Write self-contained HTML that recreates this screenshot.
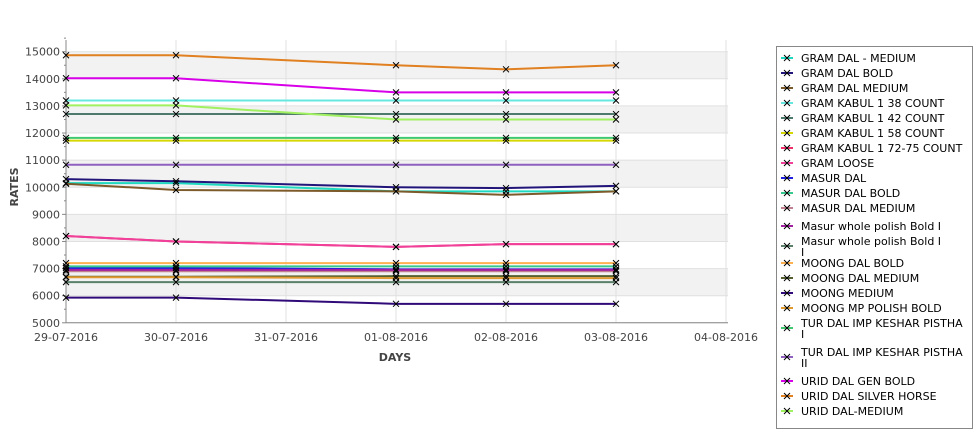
<!DOCTYPE html>
<html><head><meta charset="utf-8"><style>
body{margin:0;background:#fff;width:975px;height:429px;overflow:hidden}
svg{font-family:"DejaVu Sans","Liberation Sans",sans-serif}
</style></head><body>
<svg id="chart" width="975" height="429" xmlns="http://www.w3.org/2000/svg">
<g id="bands"></g><g id="grid"></g><g id="axes"></g><g id="series"></g><g id="legend"></g>
</svg>
<script>
const xLabels = ["29-07-2016","30-07-2016","31-07-2016","01-08-2016","02-08-2016","03-08-2016","04-08-2016"];
const yTicks = [5000,6000,7000,8000,9000,10000,11000,12000,13000,14000,15000];
const pointDays = [0,1,3,4,5];
const seriesNames = ["GRAM DAL - MEDIUM","GRAM DAL BOLD","GRAM DAL MEDIUM","GRAM KABUL 1 38 COUNT","GRAM KABUL 1 42 COUNT","GRAM KABUL 1 58 COUNT","GRAM KABUL 1 72-75 COUNT","GRAM LOOSE","MASUR DAL","MASUR DAL BOLD","MASUR DAL MEDIUM","Masur whole polish Bold I","Masur whole polish Bold I|I","MOONG DAL BOLD","MOONG DAL MEDIUM","MOONG MEDIUM","MOONG MP POLISH BOLD","TUR DAL IMP KESHAR PISTHA|I","TUR DAL IMP KESHAR PISTHA|II","URID DAL GEN BOLD","URID DAL SILVER HORSE","URID DAL-MEDIUM"];
const seriesColors = ["#1ed9c0","#22157a","#7d5a2a","#66e8e0","#4e7a6e","#d4d800","#f0306a","#f0409a","#2020e0","#36c88e","#c08090","#a020a0","#5a806a","#ffb050","#556030","#300a78","#e09a30","#40c870","#9060c0","#d800e8","#e08020","#a0f060"];
const s0=[10150,10150,9850,9850,9850], s1=[10300,10220,10000,9970,10050], s2=[10130,9900,9850,9720,9850];
const s3=[13200,13200,13200,13200,13200], s4=[12700,12700,12700,12700,12700], s5=[11720,11720,11720,11720,11720];
const s6=[8200,8000,7800,7900,7900], s7=[8200,8000,7800,7900,7900], s8=[7020,7020,6970,6970,6970];
const s9=[7080,7080,7080,7080,7080], s10=[6900,6900,6900,6900,6900], s11=[6950,6950,6950,6950,6950];
const s12=[6500,6500,6500,6500,6500], s13=[7200,7200,7200,7200,7200], s14=[6700,6700,6720,6720,6720];
const s15=[5930,5930,5700,5700,5700], s16=[6680,6680,6650,6650,6650], s17=[11820,11820,11820,11820,11820];
const s18=[10830,10830,10830,10830,10830], s19=[14020,14020,13500,13500,13500], s20=[14870,14870,14500,14350,14500];
const s21=[13020,13020,12500,12500,12500];
const seriesValues=[s0,s1,s2,s3,s4,s5,s6,s7,s8,s9,s10,s11,s12,s13,s14,s15,s16,s17,s18,s19,s20,s21];

const NS="http://www.w3.org/2000/svg";
const L=66,R=728,T=40;
const X=d=>L+d*110;
const Y=v=>51.7+(15000-v)*0.02711;
function mk(tag,parent,attrs){const e=document.createElementNS(NS,tag);for(const k in attrs)e.setAttribute(k,attrs[k]);document.getElementById(parent).appendChild(e);return e;}

for(let i=0;i<yTicks.length-1;i++){
  const b=mk('rect','bands',{x:L,y:Y(yTicks[i+1]),width:R-L,height:Y(yTicks[i])-Y(yTicks[i+1]),fill:(i%2==1)?'#f2f2f2':'#ffffff'});
  
  
}
yTicks.forEach(v=>{
  const g=mk('line','grid',{x1:L,x2:R,y1:Y(v),y2:Y(v),stroke:'#e0e0e0'});
  
  
  const t=mk('line','axes',{x1:L-4,x2:L,y1:Y(v),y2:Y(v),stroke:'#888'});
  
  
  const m=mk('line','axes',{x1:L-2,x2:L,y1:Y(v+500),y2:Y(v+500),stroke:'#888'});
  
  
  const tx=mk('text','axes',{x:L-6,y:Y(v)+4,'text-anchor':'end','font-size':'11',fill:'#444'});
  tx.textContent=v;
  
  
});
xLabels.forEach((lab,i)=>{
  const g=mk('line','grid',{x1:X(i),x2:X(i),y1:T,y2:Y(5000),stroke:'#e0e0e0'});
  
  
  const tx=mk('text','axes',{x:X(i),y:341,'text-anchor':'middle','font-size':'11',fill:'#444'});
  tx.textContent=lab;
  
  
});
let ax=mk('line','axes',{x1:L,x2:L,y1:T,y2:Y(5000),stroke:'#888'});


ax=mk('line','axes',{x1:L,x2:R,y1:Y(5000),y2:Y(5000),stroke:'#888'});


let tt=mk('text','axes',{x:395,y:361,'text-anchor':'middle','font-size':'11','font-weight':'bold',fill:'#444'});
tt.textContent='DAYS';


tt=mk('text','axes',{x:0,y:0,transform:'translate(18,187) rotate(-90)','text-anchor':'middle','font-size':'11','font-weight':'bold',fill:'#444'});
tt.textContent='RATES';



function cross(parent,x,y,s){
  const p=mk('path',parent,{d:`M${x-s} ${y-s}L${x+s} ${y+s}M${x-s} ${y+s}L${x+s} ${y-s}`,stroke:'#000','stroke-width':'1'});
  
  
}
seriesValues.forEach((vals,si)=>{
  const pts=vals.map((v,i)=>X(pointDays[i])+','+Y(v)).join(' ');
  const pl=mk('polyline','series',{points:pts,fill:'none',stroke:seriesColors[si],'stroke-width':'2'});
  
  
});
seriesValues.forEach((vals)=>{vals.forEach((v,i)=>cross('series',X(pointDays[i]),Y(v),3));});

const lb=mk('rect','legend',{x:776.5,y:46.5,width:196,height:382,fill:'#fff',stroke:'#888'});


let y=58;
seriesNames.forEach((n,i)=>{
  const parts=n.split('|');
  const cy=parts.length>1?y+5:y;
  const sw=mk('line','legend',{x1:781,x2:793,y1:cy,y2:cy,stroke:seriesColors[i],'stroke-width':'2'});
  
  
  cross('legend',787,cy,3);
  parts.forEach((p,j)=>{
    const t=mk('text','legend',{x:801,y:y+4+j*11,'font-size':'11',fill:'#000'});
    t.textContent=(j>0&&parts[0].startsWith('TUR')?' ':'')+p;
    
    
  });
  y+=parts.length>1?(n.startsWith('TUR')?29:22):15;
  if(i==10)y+=3;
});
</script>
</body></html>
